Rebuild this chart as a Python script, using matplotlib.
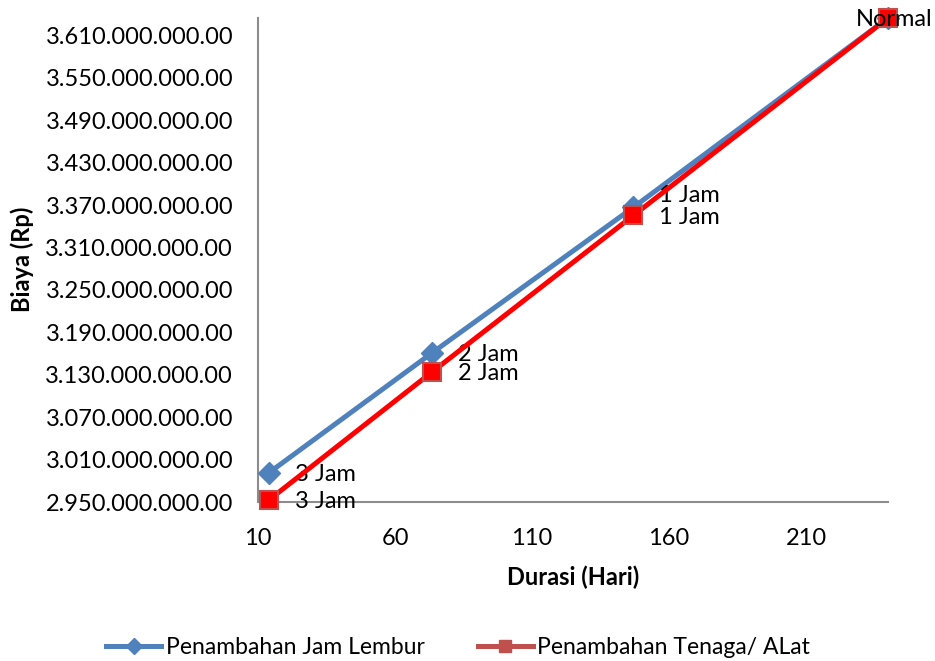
import matplotlib.pyplot as plt
from matplotlib.ticker import FuncFormatter
from matplotlib.lines import Line2D

plt.rcParams['font.family'] = ['Lato', 'DejaVu Sans']

# data
labels = ['Normal', '1 Jam', '2 Jam', '3 Jam']
durasi_lembur = [240, 147, 73.5, 14]
biaya_lembur = [3635000000, 3367000000, 3161000000, 2991500000]
durasi_tenaga = [240, 147, 73.5, 14]
biaya_tenaga = [3635000000, 3355500000, 3134000000, 2953000000]

blue = '#4F81BD'
red = '#FF0000'
fs = 17

def rupiah(v, pos):
    s = '{:,.0f}'.format(v).replace(',', '.')
    return s + '.00'

fig = plt.figure(figsize=(9.35, 6.61), dpi=100)
ax = fig.add_axes([0.276, 0.2405, 0.674, 0.7325])

ax.plot(durasi_lembur, biaya_lembur, color=blue, lw=3.6, marker='D', ms=11,
        mfc=blue, mec=blue, zorder=3, clip_on=False)
ax.plot(durasi_tenaga, biaya_tenaga, color=red, lw=3.6, marker='s', ms=13.5,
        mfc=red, mec='#C0504D', mew=1.5, zorder=4, clip_on=False)

# data labels to the right of each point
lembur_dy = [0, 12, -2, -2]
for x, y, t, dy in zip(durasi_lembur[1:], biaya_lembur[1:], labels[1:], lembur_dy[1:]):
    ax.annotate(t, (x, y), xytext=(26, dy), textcoords='offset pixels',
                fontsize=fs, va='center', ha='left')
for x, y, t in zip(durasi_tenaga[1:], biaya_tenaga[1:], labels[1:]):
    ax.annotate(t, (x, y), xytext=(26, -2), textcoords='offset pixels',
                fontsize=fs, va='center', ha='left')
ax.annotate(labels[0], (durasi_lembur[0], biaya_lembur[0]), xytext=(-32, -2),
            textcoords='offset pixels', fontsize=fs, va='center', ha='left',
            zorder=5, annotation_clip=False)

ax.set_xlim(10, 240)
ax.set_ylim(2950000000, 3635000000)
ax.set_xticks([10, 60, 110, 160, 210])
ax.set_yticks([2950000000 + 60000000 * i for i in range(12)])
ax.yaxis.set_major_formatter(FuncFormatter(rupiah))
ax.tick_params(axis='y', length=0, labelsize=fs, pad=18)
ax.tick_params(axis='x', length=0, labelsize=fs, pad=19)

for s in ['top', 'right']:
    ax.spines[s].set_visible(False)
for s in ['left', 'bottom']:
    ax.spines[s].set_color('#8C8C8C')
    ax.spines[s].set_linewidth(1.5)

fig.text(0.613, 0.127, 'Durasi (Hari)', fontsize=fs, fontweight='bold',
         ha='center', va='center')
fig.text(0.0235, 0.607, 'Biaya (Rp)', fontsize=fs, fontweight='bold',
         ha='center', va='center', rotation=90)

handles = [Line2D([], [], color=blue, lw=3.6, marker='D', ms=8),
           Line2D([], [], color='#C0504D', lw=3.6, marker='s', ms=9)]
fig.legend(handles, ['Penambahan Jam Lembur', 'Penambahan Tenaga/ ALat'],
           loc='center', bbox_to_anchor=(0.49, 0.02), ncol=2, frameon=False,
           fontsize=16.5, handlelength=2.4, handletextpad=0.2, columnspacing=2.3)

fig.savefig('out.png')
